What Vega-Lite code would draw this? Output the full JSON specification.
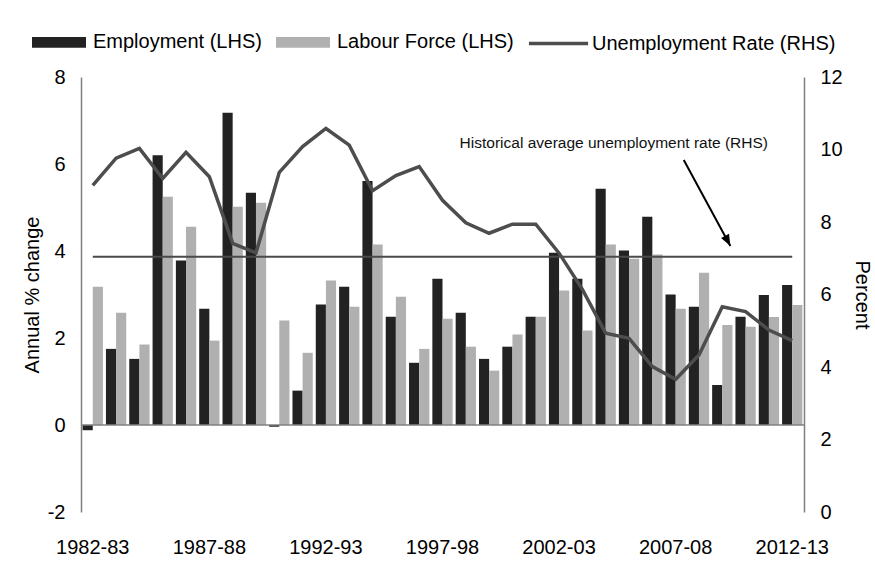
{
  "$schema": "https://vega.github.io/schema/vega-lite/v6.json",
  "width": 723,
  "height": 435,
  "autosize": {"type": "none"},
  "padding": {"left": 81, "top": 77, "right": 71, "bottom": 54},
  "background": "white",
  "config": {
    "view": {"stroke": null},
    "font": "Liberation Sans",
    "axis": {"labelColor": "#000000", "titleColor": "#000000", "labelFontSize": 20, "titleFontSize": 20, "titleFontWeight": "normal", "grid": false, "ticks": false}
  },
  "data": {
    "values": [
      {"year": "1982-83", "Employment (LHS)": -0.12, "Labour Force (LHS)": 3.18, "rate": 9.01, "avg": 7.04},
      {"year": "1983-84", "Employment (LHS)": 1.75, "Labour Force (LHS)": 2.58, "rate": 9.76, "avg": 7.04},
      {"year": "1984-85", "Employment (LHS)": 1.52, "Labour Force (LHS)": 1.85, "rate": 10.03, "avg": 7.04},
      {"year": "1985-86", "Employment (LHS)": 6.2, "Labour Force (LHS)": 5.25, "rate": 9.2, "avg": 7.04},
      {"year": "1986-87", "Employment (LHS)": 3.78, "Labour Force (LHS)": 4.56, "rate": 9.92, "avg": 7.04},
      {"year": "1987-88", "Employment (LHS)": 2.67, "Labour Force (LHS)": 1.94, "rate": 9.25, "avg": 7.04},
      {"year": "1988-89", "Employment (LHS)": 7.18, "Labour Force (LHS)": 5.02, "rate": 7.41, "avg": 7.04},
      {"year": "1989-90", "Employment (LHS)": 5.34, "Labour Force (LHS)": 5.11, "rate": 7.15, "avg": 7.04},
      {"year": "1990-91", "Employment (LHS)": -0.04, "Labour Force (LHS)": 2.4, "rate": 9.37, "avg": 7.04},
      {"year": "1991-92", "Employment (LHS)": 0.79, "Labour Force (LHS)": 1.66, "rate": 10.08, "avg": 7.04},
      {"year": "1992-93", "Employment (LHS)": 2.77, "Labour Force (LHS)": 3.32, "rate": 10.58, "avg": 7.04},
      {"year": "1993-94", "Employment (LHS)": 3.18, "Labour Force (LHS)": 2.72, "rate": 10.12, "avg": 7.04},
      {"year": "1994-95", "Employment (LHS)": 5.61, "Labour Force (LHS)": 4.15, "rate": 8.86, "avg": 7.04},
      {"year": "1995-96", "Employment (LHS)": 2.49, "Labour Force (LHS)": 2.95, "rate": 9.28, "avg": 7.04},
      {"year": "1996-97", "Employment (LHS)": 1.43, "Labour Force (LHS)": 1.75, "rate": 9.53, "avg": 7.04},
      {"year": "1997-98", "Employment (LHS)": 3.36, "Labour Force (LHS)": 2.44, "rate": 8.6, "avg": 7.04},
      {"year": "1998-99", "Employment (LHS)": 2.58, "Labour Force (LHS)": 1.8, "rate": 7.98, "avg": 7.04},
      {"year": "1999-00", "Employment (LHS)": 1.52, "Labour Force (LHS)": 1.25, "rate": 7.69, "avg": 7.04},
      {"year": "2000-01", "Employment (LHS)": 1.8, "Labour Force (LHS)": 2.08, "rate": 7.94, "avg": 7.04},
      {"year": "2001-02", "Employment (LHS)": 2.49, "Labour Force (LHS)": 2.49, "rate": 7.94, "avg": 7.04},
      {"year": "2002-03", "Employment (LHS)": 3.96, "Labour Force (LHS)": 3.09, "rate": 7.14, "avg": 7.04},
      {"year": "2003-04", "Employment (LHS)": 3.36, "Labour Force (LHS)": 2.17, "rate": 6.14, "avg": 7.04},
      {"year": "2004-05", "Employment (LHS)": 5.43, "Labour Force (LHS)": 4.15, "rate": 4.93, "avg": 7.04},
      {"year": "2005-06", "Employment (LHS)": 4.01, "Labour Force (LHS)": 3.82, "rate": 4.79, "avg": 7.04},
      {"year": "2006-07", "Employment (LHS)": 4.79, "Labour Force (LHS)": 3.92, "rate": 4.01, "avg": 7.04},
      {"year": "2007-08", "Employment (LHS)": 3.0, "Labour Force (LHS)": 2.67, "rate": 3.66, "avg": 7.04},
      {"year": "2008-09", "Employment (LHS)": 2.72, "Labour Force (LHS)": 3.5, "rate": 4.33, "avg": 7.04},
      {"year": "2009-10", "Employment (LHS)": 0.92, "Labour Force (LHS)": 2.3, "rate": 5.66, "avg": 7.04},
      {"year": "2010-11", "Employment (LHS)": 2.49, "Labour Force (LHS)": 2.26, "rate": 5.53, "avg": 7.04},
      {"year": "2011-12", "Employment (LHS)": 2.99, "Labour Force (LHS)": 2.48, "rate": 5.02, "avg": 7.04},
      {"year": "2012-13", "Employment (LHS)": 3.22, "Labour Force (LHS)": 2.76, "rate": 4.73, "avg": 7.04}
    ]
  },
  "layer": [
    {
      "layer": [
        {
          "transform": [{"fold": ["Employment (LHS)", "Labour Force (LHS)"], "as": ["series", "value"]}],
          "mark": {"type": "bar"},
          "encoding": {
            "x": {
              "field": "year", "type": "ordinal",
              "scale": {"paddingInner": 0.13, "paddingOuter": 0.07},
              "axis": {"values": ["1982-83", "1987-88", "1992-93", "1997-98", "2002-03", "2007-08", "2012-13"], "labelAngle": 0, "domain": false, "ticks": false, "labelPadding": 25, "title": null}
            },
            "xOffset": {"field": "series", "type": "nominal", "scale": {"domain": ["Employment (LHS)", "Labour Force (LHS)"], "paddingInner": 0, "paddingOuter": 0}},
            "y": {
              "field": "value", "type": "quantitative",
              "scale": {"domain": [-2, 8], "nice": false, "zero": false},
              "axis": {"values": [-2, 0, 2, 4, 6, 8], "labelExpr": "'' + datum.value", "title": "Annual % change", "domainColor": "#808080", "domainWidth": 1.5, "labelPadding": 16, "titlePadding": 5}
            },
            "color": {
              "field": "series", "type": "nominal",
              "scale": {"domain": ["Employment (LHS)", "Labour Force (LHS)", "Unemployment Rate (RHS)"], "range": ["#222222", "#b0b0b0", "#4d4d4d"]},
              "legend": {
                "orient": "none", "legendX": -51, "legendY": -64, "direction": "horizontal", "title": null,
                "symbolSize": 2916, "symbolStrokeWidth": 3.5, "labelFontSize": 20, "labelColor": "#000000", "labelOffset": 5, "columnPadding": 7, "padding": 0, "labelLimit": 400,
                "encode": {
                  "symbols": {"update": {
                    "size": {"value": 2916},
                    "strokeWidth": {"value": 3.5},
                    "shape": {"signal": "datum.value === 'Unemployment Rate (RHS)' ? 'M-0.89,0H1.3' : 'M-1,-0.2H1V0.2H-1Z'"},
                    "fill": {"signal": "datum.value === 'Employment (LHS)' ? '#222222' : datum.value === 'Labour Force (LHS)' ? '#b0b0b0' : 'transparent'"},
                    "stroke": {"signal": "datum.value === 'Unemployment Rate (RHS)' ? '#4d4d4d' : 'transparent'"},
                    "opacity": {"value": 1}
                  }},
                  "labels": {"update": {"dx": {"signal": "datum.value === 'Unemployment Rate (RHS)' ? 5 : 0"}}}
                }
              }
            }
          }
        },
        {
          "data": {"values": [{"zero": 0}]},
          "mark": {"type": "rule", "color": "#808080", "strokeWidth": 1.5},
          "encoding": {"y": {"field": "zero", "type": "quantitative"}}
        }
      ]
    },
    {
      "layer": [
        {
          "mark": {"type": "line", "color": "#4a4a4a", "strokeWidth": 2},
          "encoding": {
            "x": {"field": "year", "type": "ordinal"},
            "y": {
              "field": "avg", "type": "quantitative",
              "scale": {"domain": [0, 12], "nice": false},
              "axis": {"orient": "right", "values": [0, 2, 4, 6, 8, 10, 12], "title": "Percent", "domainColor": "#808080", "domainWidth": 1.5, "labelPadding": 16, "titlePadding": 9}
            }
          }
        },
        {
          "mark": {"type": "line", "color": "#4d4d4d", "strokeWidth": 3.5},
          "encoding": {
            "x": {"field": "year", "type": "ordinal"},
            "y": {
              "field": "rate", "type": "quantitative",
              "scale": {"domain": [0, 12], "nice": false},
              "axis": {"orient": "right", "values": [0, 2, 4, 6, 8, 10, 12], "title": "Percent", "domainColor": "#808080", "domainWidth": 1.5, "labelPadding": 16, "titlePadding": 9}
            }
          }
        },
        {
          "data": {"values": [{"year": "2007-08", "ay": 9.71}, {"year": "2009-10", "ay": 7.34}]},
          "mark": {"type": "line", "color": "#000000", "strokeWidth": 2},
          "encoding": {
            "x": {"field": "year", "type": "ordinal", "bandPosition": 0.9},
            "y": {
              "field": "ay", "type": "quantitative",
              "scale": {"domain": [0, 12], "nice": false},
              "axis": {"orient": "right", "values": [0, 2, 4, 6, 8, 10, 12], "title": "Percent", "domainColor": "#808080", "domainWidth": 1.5, "labelPadding": 16, "titlePadding": 9}
            }
          }
        },
        {
          "data": {"values": [{"year": "2009-10", "ay": 7.34}]},
          "mark": {"type": "point", "shape": "M0,0L-0.75,-1.9L0.75,-1.9Z", "size": 144, "filled": true, "color": "#000000", "opacity": 1, "angle": -28, "strokeWidth": 0},
          "encoding": {
            "x": {"field": "year", "type": "ordinal", "bandPosition": 0.9},
            "y": {
              "field": "ay", "type": "quantitative",
              "scale": {"domain": [0, 12], "nice": false},
              "axis": {"orient": "right", "values": [0, 2, 4, 6, 8, 10, 12], "title": "Percent", "domainColor": "#808080", "domainWidth": 1.5, "labelPadding": 16, "titlePadding": 9}
            }
          }
        },
        {
          "data": {"values": [{"year": "2004-05", "ty": 10.04, "label": "Historical average unemployment rate (RHS)"}]},
          "mark": {"type": "text", "fontSize": 15.5, "baseline": "alphabetic", "align": "center", "color": "#111111"},
          "encoding": {
            "x": {"field": "year", "type": "ordinal", "bandPosition": 0.9},
            "y": {
              "field": "ty", "type": "quantitative",
              "scale": {"domain": [0, 12], "nice": false},
              "axis": {"orient": "right", "values": [0, 2, 4, 6, 8, 10, 12], "title": "Percent", "domainColor": "#808080", "domainWidth": 1.5, "labelPadding": 16, "titlePadding": 9}
            },
            "text": {"field": "label"}
          }
        }
      ]
    }
  ],
  "resolve": {"scale": {"y": "independent"}}
}
